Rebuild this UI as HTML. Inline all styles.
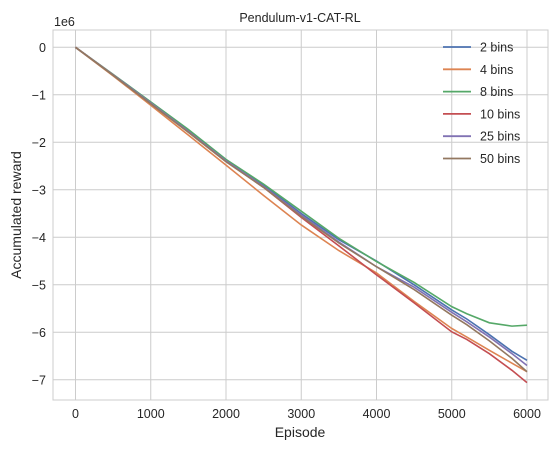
<!DOCTYPE html>
<html><head><meta charset="utf-8"><style>
body{margin:0;background:#fff;font-family:"Liberation Sans","DejaVu Sans",sans-serif;}
svg text{fill:#262626;}
</style></head><body>
<svg id="c" width="558" height="449" xmlns="http://www.w3.org/2000/svg"></svg>
<script>
const episodes=[0,500,1000,1500,2000,2500,3000,3500,4000,4500,5000,5200,5500,5800,6000];
const seriesNames=["2 bins","4 bins","8 bins","10 bins","25 bins","50 bins"];
const colors=["#4c72b0","#dd8452","#55a868","#c44e52","#8172b3","#937860"];
const s2=[0,-0.58,-1.17,-1.76,-2.38,-2.9,-3.5,-4.05,-4.5,-5.0,-5.53,-5.72,-6.05,-6.4,-6.59];
const s4=[0,-0.6,-1.22,-1.85,-2.48,-3.12,-3.74,-4.28,-4.75,-5.35,-5.92,-6.1,-6.38,-6.65,-6.83];
const s8=[0,-0.57,-1.15,-1.73,-2.36,-2.88,-3.45,-4.02,-4.51,-4.95,-5.46,-5.61,-5.8,-5.87,-5.85];
const s10=[0,-0.58,-1.18,-1.78,-2.4,-2.95,-3.58,-4.18,-4.79,-5.38,-5.99,-6.15,-6.45,-6.8,-7.06];
const s25=[0,-0.58,-1.17,-1.77,-2.39,-2.93,-3.53,-4.1,-4.62,-5.05,-5.58,-5.78,-6.1,-6.45,-6.7];
const s50=[0,-0.59,-1.19,-1.79,-2.41,-2.95,-3.56,-4.12,-4.62,-5.1,-5.64,-5.84,-6.18,-6.55,-6.83];
const series=[s2,s4,s8,s10,s25,s50];
const xTicks=[0,1000,2000,3000,4000,5000,6000];
const yTicks=[0,-1,-2,-3,-4,-5,-6,-7];
const NS="http://www.w3.org/2000/svg";
const svg=document.getElementById('c');
const L=53,R=548,T=30,B=400;
const xs=v=>75.5+v*0.07525;
const ys=v=>47.3-v*47.5;
function mk(t,a){const e=document.createElementNS(NS,t);for(const k in a)e.setAttribute(k,a[k]);svg.appendChild(e);return e;}
const bg=mk('rect',{x:L,y:T,width:R-L,height:B-T,fill:'#fff',stroke:'#cccccc','stroke-width':1});


xTicks.forEach(v=>{
 const g=mk('line',{x1:xs(v),x2:xs(v),y1:T,y2:B,stroke:'#cccccc','stroke-width':1});
 
 
 const t=mk('text',{x:xs(v),y:B+18,'text-anchor':'middle','font-size':12.5});
 t.textContent=v;
 
 
});
yTicks.forEach(v=>{
 const g=mk('line',{x1:L,x2:R,y1:ys(v),y2:ys(v),stroke:'#cccccc','stroke-width':1});
 
 
 const t=mk('text',{x:L-7,y:ys(v)+4.5,'text-anchor':'end','font-size':12.5});
 t.textContent=v<0?'\u2212'+(-v):v;
 
 
});
series.forEach((s,i)=>{
 const p=mk('polyline',{points:s.map((v,j)=>xs(episodes[j])+','+ys(v)).join(' '),fill:'none',stroke:colors[i],'stroke-width':1.6});
 
 
});
seriesNames.forEach((n,i)=>{
 const y=47+i*22.3;
 const l=mk('line',{x1:443,x2:471,y1:y,y2:y,stroke:colors[i],'stroke-width':1.8});
 
 
 const t=mk('text',{x:480,y:y+4.5,'font-size':12.5});
 t.textContent=n;
 
 
});
let t=mk('text',{x:300,y:22,'text-anchor':'middle','font-size':12.5});t.textContent='Pendulum-v1-CAT-RL';


t=mk('text',{x:300,y:437,'text-anchor':'middle','font-size':14});t.textContent='Episode';


t=mk('text',{x:0,y:0,'text-anchor':'middle','font-size':14,transform:'translate(21,215) rotate(-90)'});t.textContent='Accumulated reward';


t=mk('text',{x:54,y:26,'font-size':12.5});t.textContent='1e6';


</script>
</body></html>
